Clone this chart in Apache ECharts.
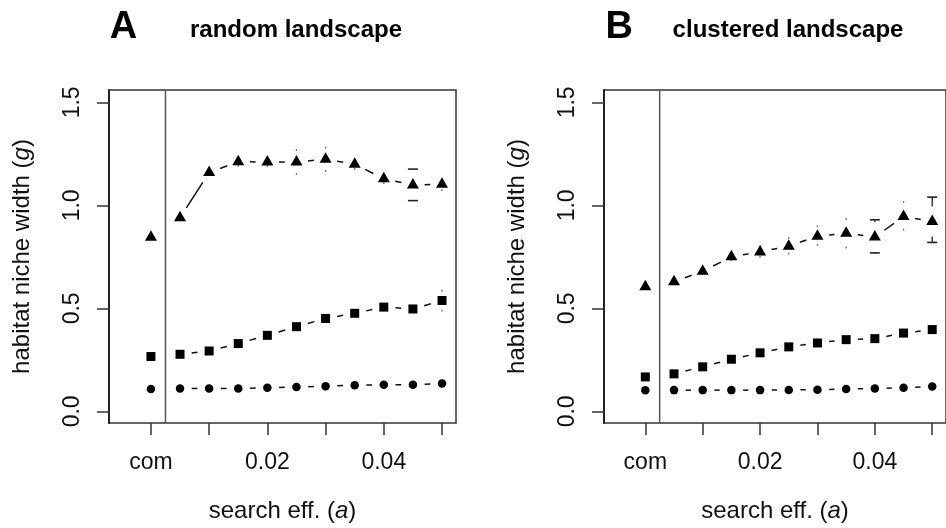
<!DOCTYPE html>
<html>
<head>
<meta charset="utf-8">
<script src="https://cdn.jsdelivr.net/npm/echarts@6/dist/echarts.min.js"></script>
<style>
  html, body { margin: 0; padding: 0; background: #fff; }
  #chart { width: 946px; height: 528px; }
</style>
</head>
<body>
<div id="chart"></div>
<script>
// Search efficiency (a) values; the "com" column sits at x = 0
const searchEff = [0.005, 0.01, 0.015, 0.02, 0.025, 0.03, 0.035, 0.04, 0.045, 0.05];
const comPosition = 0;
const xTickValues = [0, 0.01, 0.02, 0.03, 0.04, 0.05];
const xLabelValues = [0, 0.02, 0.04];
const yTickValues = [0, 0.5, 1.0, 1.5];
const separatorAt = 0.0025;

const panelLetters = ['A', 'B'];
const panelTitles = ['random landscape', 'clustered landscape'];

// --- random landscape ---
const randomCom = [0.845, 0.266, 0.108];            // triangle, square, circle
const randomTri     = [0.940, 1.159, 1.212, 1.210, 1.210, 1.224, 1.200, 1.129, 1.099, 1.102];
const randomTriLow  = [0.930, 1.150, 1.192, 1.190, 1.153, 1.167, 1.176, 1.108, 1.023, 1.075];
const randomTriHigh = [0.950, 1.170, 1.225, 1.230, 1.269, 1.280, 1.220, 1.150, 1.176, 1.125];
const randomSq      = [0.277, 0.293, 0.329, 0.369, 0.411, 0.451, 0.476, 0.506, 0.497, 0.538];
const randomSqLow   = [0.270, 0.285, 0.320, 0.360, 0.400, 0.440, 0.465, 0.495, 0.485, 0.490];
const randomSqHigh  = [0.285, 0.300, 0.338, 0.378, 0.422, 0.462, 0.487, 0.518, 0.510, 0.585];
const randomCirc    = [0.111, 0.111, 0.111, 0.114, 0.118, 0.122, 0.127, 0.129, 0.129, 0.135];

// --- clustered landscape ---
const clusterCom = [0.605, 0.167, 0.102];
const clusterTri     = [0.629, 0.680, 0.750, 0.774, 0.802, 0.850, 0.864, 0.846, 0.946, 0.922];
const clusterTriLow  = [0.620, 0.670, 0.735, 0.750, 0.766, 0.808, 0.795, 0.769, 0.882, 0.820];
const clusterTriHigh = [0.640, 0.700, 0.770, 0.800, 0.842, 0.898, 0.934, 0.930, 1.016, 1.040];
const clusterSq      = [0.182, 0.216, 0.253, 0.284, 0.313, 0.332, 0.348, 0.353, 0.380, 0.397];
const clusterSqLow   = [0.175, 0.208, 0.244, 0.275, 0.304, 0.323, 0.338, 0.343, 0.366, 0.382];
const clusterSqHigh  = [0.189, 0.224, 0.262, 0.293, 0.322, 0.341, 0.358, 0.363, 0.394, 0.412];
const clusterCirc    = [0.103, 0.103, 0.103, 0.103, 0.104, 0.105, 0.108, 0.111, 0.114, 0.121];

const FONT = '"Liberation Sans", Arial, Helvetica, sans-serif';
const INK = '#111';
const LINE_GAP = 11.7;   // blank space left around each point by the connecting lines
const BAR_GAP = 15;      // blank space left around each point by the error bars

const panels = [
  { com: randomCom, tri: [randomTri, randomTriLow, randomTriHigh], sq: [randomSq, randomSqLow, randomSqHigh], circ: randomCirc },
  { com: clusterCom, tri: [clusterTri, clusterTriLow, clusterTriHigh], sq: [clusterSq, clusterSqLow, clusterSqHigh], circ: clusterCirc }
];

const gridLefts = [109, 604];

function pairs(ys) {
  const out = [];
  for (let k = 0; k < searchEff.length - 1; k++) {
    out.push([searchEff[k], ys[k], searchEff[k + 1], ys[k + 1]]);
  }
  return out;
}

function renderGappedSegment(params, api) {
  const p1 = api.coord([api.value(0), api.value(1)]);
  const p2 = api.coord([api.value(2), api.value(3)]);
  const dx = p2[0] - p1[0], dy = p2[1] - p1[1];
  const len = Math.sqrt(dx * dx + dy * dy);
  if (len <= 2 * LINE_GAP) return null;
  const ux = dx / len, uy = dy / len;
  return {
    type: 'line',
    shape: {
      x1: p1[0] + ux * LINE_GAP, y1: p1[1] + uy * LINE_GAP,
      x2: p2[0] - ux * LINE_GAP, y2: p2[1] - uy * LINE_GAP
    },
    style: { stroke: INK, lineWidth: 1.5 }
  };
}

function renderErrorBar(params, api) {
  const x = api.value(0);
  const c = api.coord([x, api.value(1)]);
  const lo = api.coord([x, api.value(2)]);
  const hi = api.coord([x, api.value(3)]);
  const children = [];
  [hi, lo].forEach(function (b) {
    const d = b[1] - c[1];
    const dist = Math.abs(d);
    if (dist > BAR_GAP) {
      const start = c[1] + Math.sign(d) * BAR_GAP;
      children.push({ type: 'line', shape: { x1: c[0], y1: start, x2: c[0], y2: b[1] },
        style: { stroke: '#222', lineWidth: 1.3 } });
      children.push({ type: 'line', shape: { x1: c[0] - 5, y1: b[1], x2: c[0] + 5, y2: b[1] },
        style: { stroke: '#222', lineWidth: 1.6 } });
    } else {
      children.push({ type: 'rect', shape: { x: c[0] - 0.7, y: b[1] - 1, width: 1.4, height: 2 },
        style: { fill: '#777' } });
    }
  });
  return { type: 'group', children: children };
}

// vertical rule separating the "com" column from the search-efficiency runs
function renderSeparator(params, api) {
  const x = api.coord([api.value(0), 0])[0];
  const cs = params.coordSys;
  return { type: 'line', shape: { x1: x, y1: cs.y, x2: x, y2: cs.y + cs.height },
    style: { stroke: '#555', lineWidth: 1.5 } };
}

const xAxes = [], yAxes = [], grids = [], series = [];

panels.forEach(function (p, i) {
  grids.push({ left: gridLefts[i], top: 90, width: 347, height: 334, show: true,
    borderColor: '#333', borderWidth: 1.5, backgroundColor: 'transparent' });

  xAxes.push({
    type: 'value', gridIndex: i, min: -0.0072, max: 0.0524, position: 'bottom',
    splitLine: { show: false }, axisLine: { show: false, onZero: false },
    axisTick: { show: true, customValues: xTickValues, length: 12, lineStyle: { color: '#333', width: 1.5 } },
    axisLabel: { show: true, customValues: xLabelValues, margin: 28,
      formatter: function (v) { return Math.abs(v - comPosition) < 1e-9 ? 'com' : v.toFixed(2); },
      fontSize: 23, color: INK, fontFamily: FONT },
    name: '{t|search eff. (}{i|a}{t|)}', nameLocation: 'middle', nameGap: 76,
    nameTextStyle: { color: INK, fontFamily: FONT, fontSize: 24,
      rich: { t: { fontSize: 24, fontFamily: FONT, color: INK },
              i: { fontSize: 24, fontFamily: FONT, color: INK, fontStyle: 'italic' } } }
  });

  yAxes.push({
    type: 'value', gridIndex: i, min: -0.0566, max: 1.56, position: 'left',
    splitLine: { show: false },
    axisLine: { show: true, onZero: false, lineStyle: { color: '#222', width: 2 } },
    axisTick: { show: true, customValues: yTickValues, length: 12, lineStyle: { color: '#333', width: 1.5 } },
    axisLabel: { show: true, customValues: yTickValues, rotate: 90, margin: 25,
      formatter: function (v) { return v.toFixed(1); },
      fontSize: 23, color: INK, fontFamily: FONT },
    name: '{t|habitat niche width (}{i|g}{t|)}', nameLocation: 'middle', nameGap: 75,
    nameTextStyle: { color: INK, fontFamily: FONT, fontSize: 24,
      rich: { t: { fontSize: 24, fontFamily: FONT, color: INK },
              i: { fontSize: 24, fontFamily: FONT, color: INK, fontStyle: 'italic' } } }
  });

  const common = { xAxisIndex: i, yAxisIndex: i, silent: true };

  series.push(Object.assign({ type: 'custom', renderItem: renderSeparator, data: [[separatorAt]], z: 1 }, common));

  // connecting lines (com column stays unconnected)
  [p.tri[0], p.sq[0], p.circ].forEach(function (ys) {
    series.push(Object.assign({ type: 'custom', renderItem: renderGappedSegment, data: pairs(ys), z: 2 }, common));
  });

  // error bars
  [p.tri, p.sq].forEach(function (set) {
    const data = searchEff.map(function (x, k) { return [x, set[0][k], set[1][k], set[2][k]]; });
    series.push(Object.assign({ type: 'custom', renderItem: renderErrorBar, data: data, z: 2 }, common));
  });

  // point markers
  const markerSpecs = [
    { ys: p.tri[0], com: p.com[0], symbol: 'triangle', size: [12, 10.5], offset: [0, -1.75] },
    { ys: p.sq[0], com: p.com[1], symbol: 'rect', size: 9, offset: [0, 0] },
    { ys: p.circ, com: p.com[2], symbol: 'circle', size: 8.5, offset: [0, 0] }
  ];
  markerSpecs.forEach(function (m) {
    const data = [[comPosition, m.com]].concat(searchEff.map(function (x, k) { return [x, m.ys[k]]; }));
    series.push(Object.assign({
      type: 'scatter', data: data, symbol: m.symbol, symbolSize: m.size, symbolOffset: m.offset,
      itemStyle: { color: '#000', opacity: 1 }, z: 4
    }, common));
  });
});

const titleCenters = [296, 788];
const letterCenters = [123.5, 619.2];
const graphics = [];
panelLetters.forEach(function (L, i) {
  graphics.push({ type: 'text', x: letterCenters[i], y: 27.5, silent: true,
    style: { text: L, fontSize: 38, fontWeight: 'bold', fontFamily: FONT, fill: '#000', align: 'center', verticalAlign: 'middle' } });
  graphics.push({ type: 'text', x: titleCenters[i], y: 30, silent: true,
    style: { text: panelTitles[i], fontSize: 24, fontWeight: 'bold', fontFamily: FONT, fill: '#000', align: 'center', verticalAlign: 'middle' } });
});

const chart = echarts.init(document.getElementById('chart'), null, { renderer: 'canvas' });
chart.setOption({
  animation: false,
  backgroundColor: '#fff',
  grid: grids,
  xAxis: xAxes,
  yAxis: yAxes,
  series: series,
  graphic: graphics
});
</script>
</body>
</html>
